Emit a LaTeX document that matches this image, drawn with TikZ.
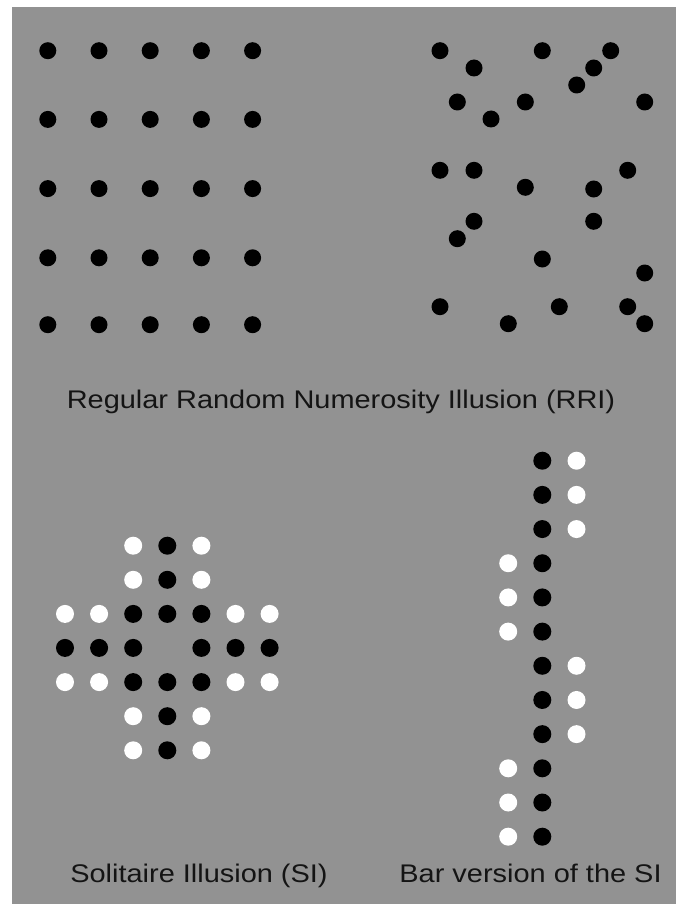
\documentclass[tikz,border=0pt]{standalone}
\usepackage{fontspec}
\setmainfont{Liberation Sans}
\usetikzlibrary{positioning}
\definecolor{bggray}{RGB}{146,146,146}
\definecolor{labelink}{RGB}{20,20,20}
\newcommand{\widetext}[1]{\scalebox{1.135}[1]{#1}}

\begin{document}
\begin{tikzpicture}[x=1pt, y=-1pt,
    bdot/.style={fill=black},
    wdot/.style={fill=white},
    caption/.style={anchor=base, inner sep=0pt, text=labelink, font=\fontsize{25.5}{30}\selectfont}
]
\useasboundingbox (0,0) rectangle (676,904);
\fill[bggray] (12,7) rectangle (676,904);

% regular grid
\foreach \x in {47.8,99,150.2,201.4,252.6}
  \foreach \y in {50.7,119.4,188.6,257.8,324.7}
    \fill[bdot] (\x,\y) circle (8.5pt);

% random field
\foreach \x/\y in {440/50.7, 474/68, 542.3/50.7, 610.7/50.7, 593.7/68, 576.7/85,
    457.3/102, 525.3/102, 644.7/102, 491/119, 440/170.3, 474/170.3, 627.7/170.3,
    525.3/187.3, 593.7/189, 474/221.3, 593.7/221.3, 457.3/238.7, 542.3/259,
    644.7/273, 440/306.7, 559.3/306.7, 627.7/306.7, 508.3/323.7, 644.7/323.7}
  \fill[bdot] (\x,\y) circle (8.5pt);

\node[caption] (rri) at (341,408.3) {\widetext{Regular Random Numerosity Illusion (RRI)}};

% solitaire cross
\foreach \r in {0,1,5,6} {
  \fill[wdot] (133.2,545.7+34.1*\r) circle (9pt);
  \fill[bdot] (167.3,545.7+34.1*\r) circle (9pt);
  \fill[wdot] (201.4,545.7+34.1*\r) circle (9pt);
}
\foreach \r in {2,4}
  \foreach \c/\s in {0/wdot,1/wdot,2/bdot,3/bdot,4/bdot,5/wdot,6/wdot}
    \fill[\s] (65+34.1*\c,545.7+34.1*\r) circle (9pt);
\foreach \c in {0,1,2,4,5,6}
  \fill[bdot] (65+34.1*\c,647.9) circle (9pt);

\node[caption] (si) at (199,882.5) {\widetext{Solitaire Illusion (SI)}};

% bar version
\foreach \r in {0,...,11}
  \fill[bdot] (542.3,460.7+34.18*\r) circle (9pt);
\foreach \r in {0,1,2,6,7,8}
  \fill[wdot] (576.5,460.7+34.18*\r) circle (9pt);
\foreach \r in {3,4,5,9,10,11}
  \fill[wdot] (508.2,460.7+34.18*\r) circle (9pt);

\node[caption] (bar) at (530.5,882.5) {\widetext{Bar version of the SI}};
\end{tikzpicture}
\end{document}
